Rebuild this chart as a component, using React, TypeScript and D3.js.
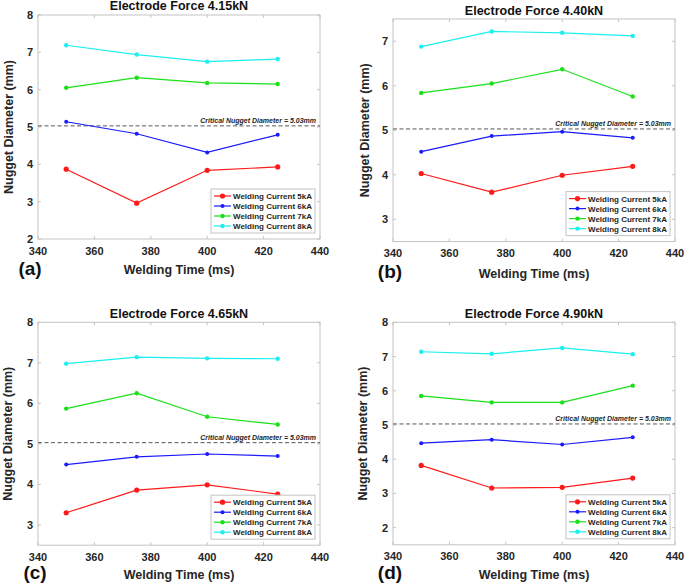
import React from "react";
import * as d3 from "d3";

// ---------- data ----------
const weldingTimes = [350, 375, 400, 425];
const xTicks = [340, 360, 380, 400, 420, 440];
const xDomain = [340, 440];
const seriesNames = [
  "Welding Current 5kA",
  "Welding Current 6kA",
  "Welding Current 7kA",
  "Welding Current 8kA",
];
const panelTitles = [
  "Electrode Force 4.15kN",
  "Electrode Force 4.40kN",
  "Electrode Force 4.65kN",
  "Electrode Force 4.90kN",
];
const panelTags = ["(a)", "(b)", "(c)", "(d)"];
const criticalDiameter = 5.03;
const criticalLabel = "Critical Nugget Diameter = 5.03mm";

const yDomainA = [2, 8];
const yDomainB = [2.5, 7.5];
const yDomainC = [2.5, 8];
const yDomainD = [1.5, 8];
const yTicksA = [2, 3, 4, 5, 6, 7, 8];
const yTicksB = [3, 4, 5, 6, 7];
const yTicksC = [3, 4, 5, 6, 7, 8];
const yTicksD = [2, 3, 4, 5, 6, 7, 8];

// nugget diameter (mm) per welding current [5kA, 6kA, 7kA, 8kA]
const nuggetA = [
  [3.87, 2.96, 3.84, 3.93],
  [5.14, 4.82, 4.32, 4.79],
  [6.05, 6.32, 6.18, 6.15],
  [7.19, 6.94, 6.75, 6.82],
];
const nuggetB = [
  [4.03, 3.61, 3.99, 4.19],
  [4.52, 4.87, 4.97, 4.83],
  [5.84, 6.05, 6.37, 5.76],
  [6.88, 7.22, 7.19, 7.12],
];
const nuggetC = [
  [3.3, 3.86, 3.99, 3.76],
  [4.49, 4.68, 4.75, 4.7],
  [5.87, 6.25, 5.67, 5.48],
  [6.98, 7.14, 7.11, 7.1],
];
const nuggetD = [
  [3.82, 3.16, 3.18, 3.45],
  [4.47, 4.57, 4.43, 4.64],
  [5.85, 5.66, 5.66, 6.15],
  [7.14, 7.08, 7.25, 7.07],
];

// ---------- styles ----------
const seriesColors = ["#ff1a1a", "#1a1aff", "#1ae01a", "#1af0f0"];
const markerR = [2.6, 2.0, 2.2, 2.2];
const FONT = "'Liberation Sans', Arial, Helvetica, sans-serif";
const TEXT = "#262626";
const FRAME = "#c4c4c4";

type Frame = {
  l: number; r: number; t: number; b: number;
  titleY: number; ylabX: number; tagX: number; tagY: number; xlabY: number;
};

const frames: Frame[] = [
  { l: 38, r: 320, t: 15, b: 239, titleY: 10, ylabX: 13, tagX: 30, tagY: 275, xlabY: 274 },
  { l: 393, r: 675, t: 19, b: 241.6, titleY: 14.5, ylabX: 369, tagX: 390, tagY: 278, xlabY: 278 },
  { l: 38, r: 320, t: 322.3, b: 545.2, titleY: 318, ylabX: 11.5, tagX: 35, tagY: 579, xlabY: 579 },
  { l: 393, r: 675, t: 322.3, b: 544.8, titleY: 317.5, ylabX: 367, tagX: 390, tagY: 579, xlabY: 579 },
];

const panelData = [nuggetA, nuggetB, nuggetC, nuggetD];
const panelYDomains = [yDomainA, yDomainB, yDomainC, yDomainD];
const panelYTicks = [yTicksA, yTicksB, yTicksC, yTicksD];

function Panel({ idx }: { idx: number }) {
  const f = frames[idx];
  const x = d3.scaleLinear().domain(xDomain).range([f.l, f.r]);
  const y = d3.scaleLinear().domain(panelYDomains[idx]).range([f.b, f.t]);
  const line = d3
    .line<number>()
    .x((_, i) => x(weldingTimes[i]))
    .y((v) => y(v));
  const cx = (f.l + f.r) / 2;
  const cy = (f.t + f.b) / 2;
  const tickLen = 3;
  const legW = 104;
  const legH = 44;
  const legX = f.r - 5 - legW;
  const legY = f.b - 6 - legH;
  const yc = y(criticalDiameter);

  return (
    <g>
      {/* frame */}
      <rect x={f.l} y={f.t} width={f.r - f.l} height={f.b - f.t} fill="#fff" stroke={FRAME} strokeWidth={1} />
      {/* x ticks */}
      {xTicks.map((t) => (
        <g key={"x" + t}>
          <line x1={x(t)} x2={x(t)} y1={f.b} y2={f.b - tickLen} stroke={FRAME} />
          <line x1={x(t)} x2={x(t)} y1={f.t} y2={f.t + tickLen} stroke={FRAME} />
          <text x={x(t)} y={f.b + 15.5} textAnchor="middle" fontSize={11} fontWeight="bold" fill={TEXT} fontFamily={FONT}>
            {t}
          </text>
        </g>
      ))}
      {/* y ticks */}
      {panelYTicks[idx].map((t) => (
        <g key={"y" + t}>
          <line x1={f.l} x2={f.l + tickLen} y1={y(t)} y2={y(t)} stroke={FRAME} />
          <line x1={f.r} x2={f.r - tickLen} y1={y(t)} y2={y(t)} stroke={FRAME} />
          <text x={f.l - 5} y={y(t) + 4} textAnchor="end" fontSize={11} fontWeight="bold" fill={TEXT} fontFamily={FONT}>
            {t}
          </text>
        </g>
      ))}
      {/* critical line */}
      <line x1={f.l} x2={f.r} y1={yc} y2={yc} stroke="#555" strokeWidth={1} strokeDasharray="4,2.5" />
      <text x={f.r - 4} y={yc - 3} textAnchor="end" fontSize={7} fontWeight="bold" fontStyle="italic" fill={TEXT} fontFamily={FONT}>
        {criticalLabel}
      </text>
      {/* series */}
      {panelData[idx].map((vals, s) => (
        <g key={"s" + s}>
          <path d={line(vals) || ""} fill="none" stroke={seriesColors[s]} strokeWidth={1.2} />
          {vals.map((v, i) => (
            <circle key={i} cx={x(weldingTimes[i])} cy={y(v)} r={markerR[s]} fill={seriesColors[s]} />
          ))}
        </g>
      ))}
      {/* legend */}
      <rect x={legX} y={legY} width={legW} height={legH} fill="#fff" stroke={FRAME} strokeWidth={1} />
      {seriesNames.map((n, s) => {
        const ry = legY + 7 + s * 10;
        return (
          <g key={"l" + s}>
            <line x1={legX + 3} x2={legX + 20} y1={ry} y2={ry} stroke={seriesColors[s]} strokeWidth={1.2} />
            <circle cx={legX + 11.5} cy={ry} r={markerR[s]} fill={seriesColors[s]} />
            <text x={legX + 22} y={ry + 3} fontSize={8} fontWeight="bold" fill={TEXT} fontFamily={FONT}>
              {n}
            </text>
          </g>
        );
      })}
      {/* title */}
      <text x={cx} y={f.titleY} textAnchor="middle" fontSize={12.5} fontWeight="bold" fill="#111" fontFamily={FONT}>
        {panelTitles[idx]}
      </text>
      {/* axis labels */}
      <text x={cx} y={f.xlabY} textAnchor="middle" fontSize={12.5} fontWeight="bold" fill={TEXT} fontFamily={FONT}>
        Welding Time (ms)
      </text>
      <text
        transform={`translate(${f.ylabX},${cy}) rotate(-90)`}
        textAnchor="middle"
        fontSize={12.5}
        fontWeight="bold"
        fill={TEXT}
        fontFamily={FONT}
      >
        Nugget Diameter (mm)
      </text>
      <text x={f.tagX} y={f.tagY} textAnchor="middle" fontSize={19} fontWeight="bold" fill="#111" fontFamily={FONT}>
        {panelTags[idx]}
      </text>
    </g>
  );
}

export default function App() {
  return (
    <svg
      width={685}
      height={587}
      viewBox="0 0 685 587"
      style={{ position: "absolute", left: 0, top: 0, background: "#fff" }}
    >
      <rect x={0} y={0} width={685} height={587} fill="#fff" />
      {[0, 1, 2, 3].map((i) => (
        <Panel key={i} idx={i} />
      ))}
    </svg>
  );
}
